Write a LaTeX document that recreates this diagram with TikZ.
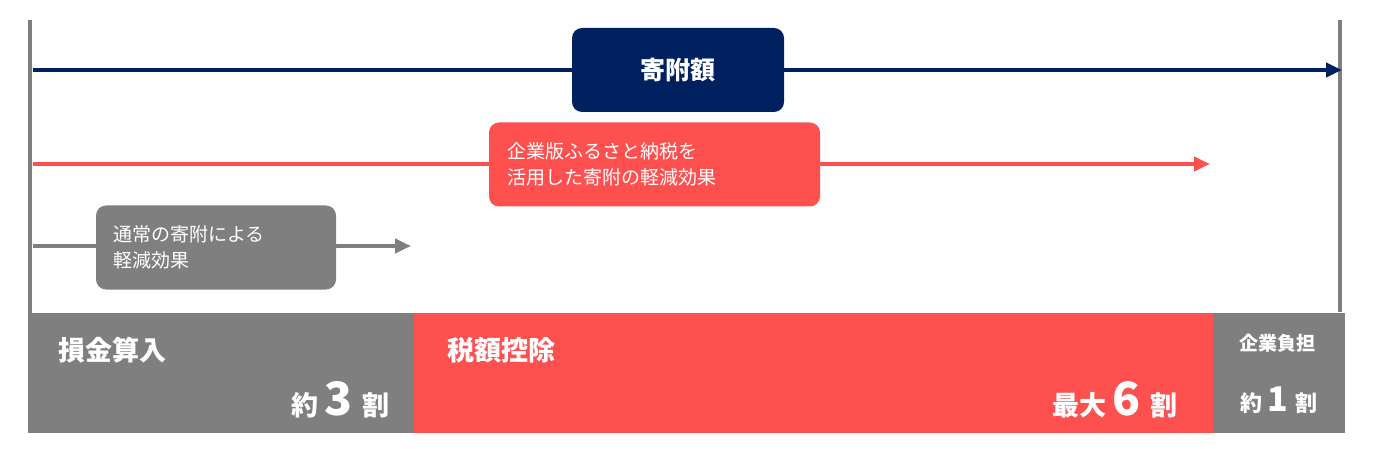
\documentclass[tikz,border=0pt]{standalone}
\usepackage{fontspec}
\setmainfont{Noto Sans CJK JP}
\usetikzlibrary{arrows.meta}
\definecolor{navy}{HTML}{002060}
\definecolor{myred}{HTML}{FF5050}
\definecolor{mygray}{HTML}{7F7F7F}
\tikzset{
 arr/.style={line width=4pt,-{Triangle[length=16pt,width=14pt]}},
 lbl/.style={rounded corners=10pt,minimum height=84pt,text=white,font=\fontsize{19}{26}\selectfont,align=left,inner sep=0pt},
 bar/.style={inner sep=0pt,anchor=north west},
 big/.style={text=white,font=\bfseries\fontsize{27}{30}\selectfont,inner sep=0pt}
}
\begin{document}
\begin{tikzpicture}[x=1pt,y=-1pt]
\useasboundingbox (0,0) rectangle (1386,449);
\coordinate (l1) at (30,20); \coordinate (l2) at (30,432);
\coordinate (r1) at (1340,20); \coordinate (r2) at (1340,312);
\draw[mygray,line width=4pt] (l1)--(l2);
\draw[mygray,line width=4pt] (r1)--(r2);
% arrows
\coordinate (a1) at (33,70); \coordinate (a2) at (1342,70);
\draw[arr,navy] (a1)--(a2);
\coordinate (b1) at (33,164); \coordinate (b2) at (1210,164);
\draw[arr,myred] (b1)--(b2);
\coordinate (c1) at (33,246); \coordinate (c2) at (411,246);
\draw[arr,mygray] (c1)--(c2);
% boxes
\node[lbl,fill=navy,minimum width=212pt,align=center,font=\bfseries\fontsize{25}{30}\selectfont] (k) at (678,70) {寄附額};
\node[lbl,fill=myred,minimum width=331pt,text width=295pt] (f) at (654.5,164.5) {企業版ふるさと納税を\\活用した寄附の軽減効果};
\node[lbl,fill=mygray,minimum width=240pt,text width=206pt] (g) at (216,247.5) {通常の寄附による\\軽減効果};
% bars
\fill[mygray] (28,313) rectangle (414,433);
\fill[myred] (414,313) rectangle (1213,433);
\fill[mygray] (1213,313) rectangle (1345,433);
\node[big,anchor=west] (t1) at (58,350) {損金算入};
\node[big,anchor=west] (t2) at (447,350) {税額控除};
\node[text=white,font=\bfseries\fontsize{19}{22}\selectfont] (t3) at (1277,343) {企業負担};
\node[text=white,anchor=east,inner sep=0pt] (n1) at (390,400) {\bfseries\fontsize{27}{30}\selectfont 約 \fontsize{46}{50}\selectfont 3 \fontsize{27}{30}\selectfont 割};
\node[text=white,anchor=east,inner sep=0pt] (n2) at (1178,400) {\bfseries\fontsize{27}{30}\selectfont 最大 \fontsize{46}{50}\selectfont 6 \fontsize{27}{30}\selectfont 割};
\node[text=white,inner sep=0pt] (n3) at (1279,400) {\bfseries\fontsize{22}{26}\selectfont 約 \fontsize{34}{38}\selectfont 1 \fontsize{22}{26}\selectfont 割};
\end{tikzpicture}
\end{document}
